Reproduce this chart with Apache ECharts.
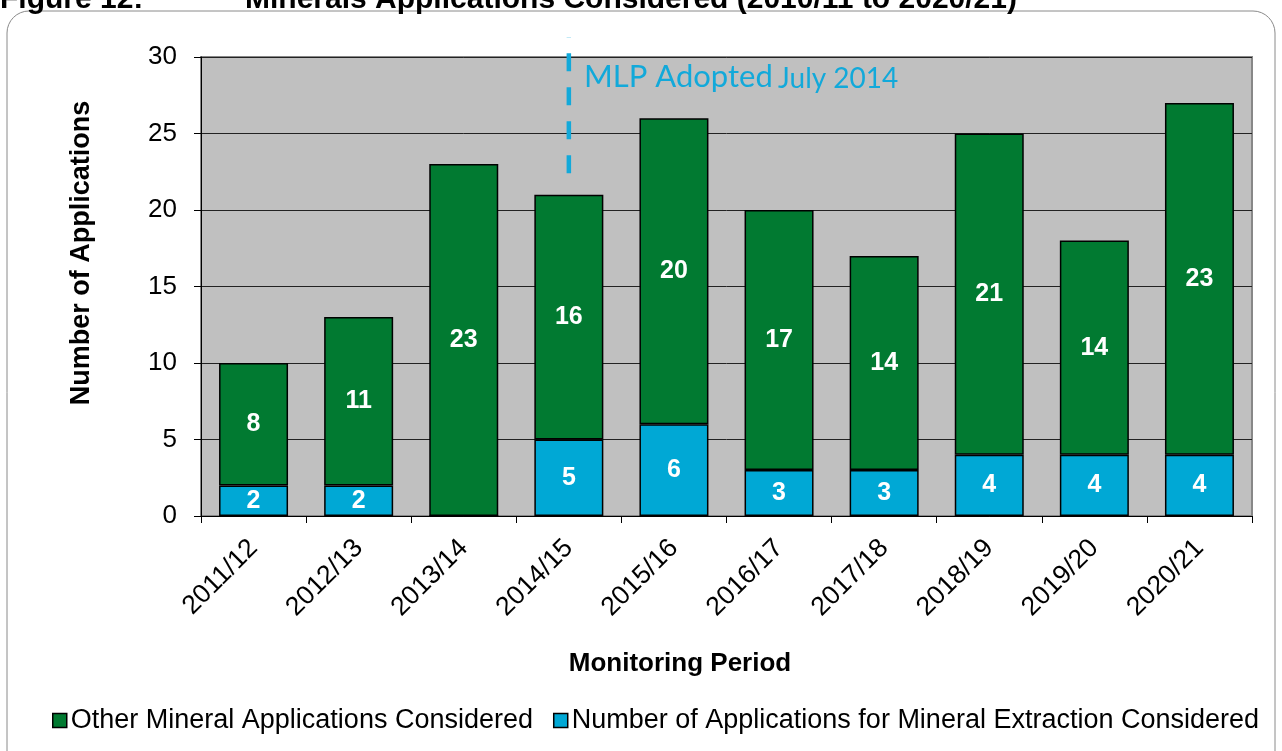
<!DOCTYPE html>
<html>
<head>
<meta charset="utf-8">
<script src="https://cdn.jsdelivr.net/npm/echarts@6/dist/echarts.min.js"></script>
<style>
  html, body { margin: 0; padding: 0; background: #fff; }
  #chart { width: 1282px; height: 751px; }
</style>
</head>
<body>
<div id="chart"></div>
<script>
const periods = ['2011/12', '2012/13', '2013/14', '2014/15', '2015/16', '2016/17', '2017/18', '2018/19', '2019/20', '2020/21']
const extraction = [2, 2, 0, 5, 6, 3, 3, 4, 4, 4]
const otherMineral = [8, 11, 23, 16, 20, 17, 14, 21, 14, 23]
const yTicks = [0, 5, 10, 15, 20, 25, 30]
// MLP adoption marker: category and value range of the dashed line (bottom -> top)
const mlpPeriod = '2014/15'
const mlpLineRange = [22.4, 31.3]

const FONT = '"Liberation Sans", Arial, sans-serif'
const GREEN = '#017A31'
const BLUE = '#00A8D5'
const MLP_BLUE = '#12A9DA'

const chart = echarts.init(document.getElementById('chart'))

const barLabel = {
  show: true,
  position: 'inside',
  color: '#fff',
  fontFamily: FONT,
  fontWeight: 'bold',
  fontSize: 25,
  formatter: (p) => (p.value ? p.value : '')
}

chart.setOption({
  animation: false,
  backgroundColor: '#fff',
  grid: {
    left: 201, right: 30, top: 57, bottom: 235,
    show: true,
    backgroundColor: '#C0C0C0',
    borderColor: '#888',
    borderWidth: 2
  },
  legend: {
    bottom: 12,
    left: 47,
    itemWidth: 14,
    itemHeight: 14,
    itemGap: 20,
    icon: 'rect',
    textStyle: { fontFamily: FONT, fontSize: 27, color: '#000', padding: [0, 0, 0, -1] },
    data: [
      { name: 'Other Mineral Applications Considered', itemStyle: { borderColor: '#000', borderWidth: 1.5 } },
      { name: 'Number of Applications for Mineral Extraction Considered', itemStyle: { borderColor: '#000', borderWidth: 1.5 } }
    ]
  },
  xAxis: {
    type: 'category',
    data: periods,
    axisLine: { lineStyle: { color: '#000', width: 1 } },
    axisTick: { show: true, length: 7, lineStyle: { color: '#000' } },
    axisLabel: {
      rotate: 45,
      fontFamily: FONT,
      fontSize: 26.5,
      color: '#000',
      margin: 28
    }
  },
  yAxis: {
    type: 'value',
    min: yTicks[0],
    max: yTicks[yTicks.length - 1],
    interval: 5,
    axisLine: { show: true, lineStyle: { color: '#000', width: 1 } },
    axisTick: { show: true, length: 7, lineStyle: { color: '#000' } },
    axisLabel: { fontFamily: FONT, fontSize: 26, color: '#000', margin: 24 },
    splitLine: { lineStyle: { color: '#222', width: 1 } }
  },
  series: [
    {
      name: 'Number of Applications for Mineral Extraction Considered',
      type: 'bar',
      stack: 'apps',
      barWidth: 69,
      data: extraction,
      itemStyle: { color: BLUE, borderColor: '#000', borderWidth: 1.5 },
      label: barLabel
    },
    {
      name: 'Other Mineral Applications Considered',
      type: 'bar',
      stack: 'apps',
      barWidth: 69,
      data: otherMineral,
      itemStyle: { color: GREEN, borderColor: '#000', borderWidth: 1.5 },
      label: barLabel
    },
    {
      name: 'MLP Adopted',
      type: 'line',
      clip: false,
      silent: true,
      symbol: 'none',
      z: 5,
      data: [[mlpPeriod, mlpLineRange[0]], [mlpPeriod, mlpLineRange[1]]],
      lineStyle: { color: MLP_BLUE, width: 4.5, type: [18, 16], cap: 'butt' }
    }
  ],
  graphic: [
    {
      type: 'rect',
      shape: { x: 7, y: 11, width: 1268, height: 790, r: 22 },
      style: { fill: 'none', stroke: '#8a8a8a', lineWidth: 1 },
      z: -1
    },
    {
      type: 'text', left: 0, top: -15,
      style: { text: 'Figure 12:', font: 'bold 30px ' + FONT, fill: '#000' }
    },
    {
      type: 'text', left: 245, top: -15,
      style: { text: 'Minerals Applications Considered (2010/11 to 2020/21)', font: 'bold 30px ' + FONT, fill: '#000' }
    },
    {
      type: 'text', left: 584, top: 61,
      style: {
        text: '{a|MLP Adopted} {b|July 2014}',
        fill: MLP_BLUE,
        rich: {
          a: { fontFamily: 'Lato, "Open Sans", sans-serif', fontSize: 31, fill: MLP_BLUE },
          b: { fontFamily: 'Lato, "Open Sans", sans-serif', fontSize: 28, fill: MLP_BLUE, padding: [5, 0, 0, 2] }
        }
      }
    },
    {
      type: 'text', x: 82, y: 253, rotation: Math.PI / 2,
      style: {
        text: 'Number of Applications', font: 'bold 27px ' + FONT, fill: '#000',
        align: 'center', verticalAlign: 'middle'
      }
    },
    {
      type: 'text', x: 680, y: 664,
      style: {
        text: 'Monitoring Period', font: 'bold 26px ' + FONT, fill: '#000',
        align: 'center', verticalAlign: 'middle'
      }
    }
  ]
})
</script>
</body>
</html>
